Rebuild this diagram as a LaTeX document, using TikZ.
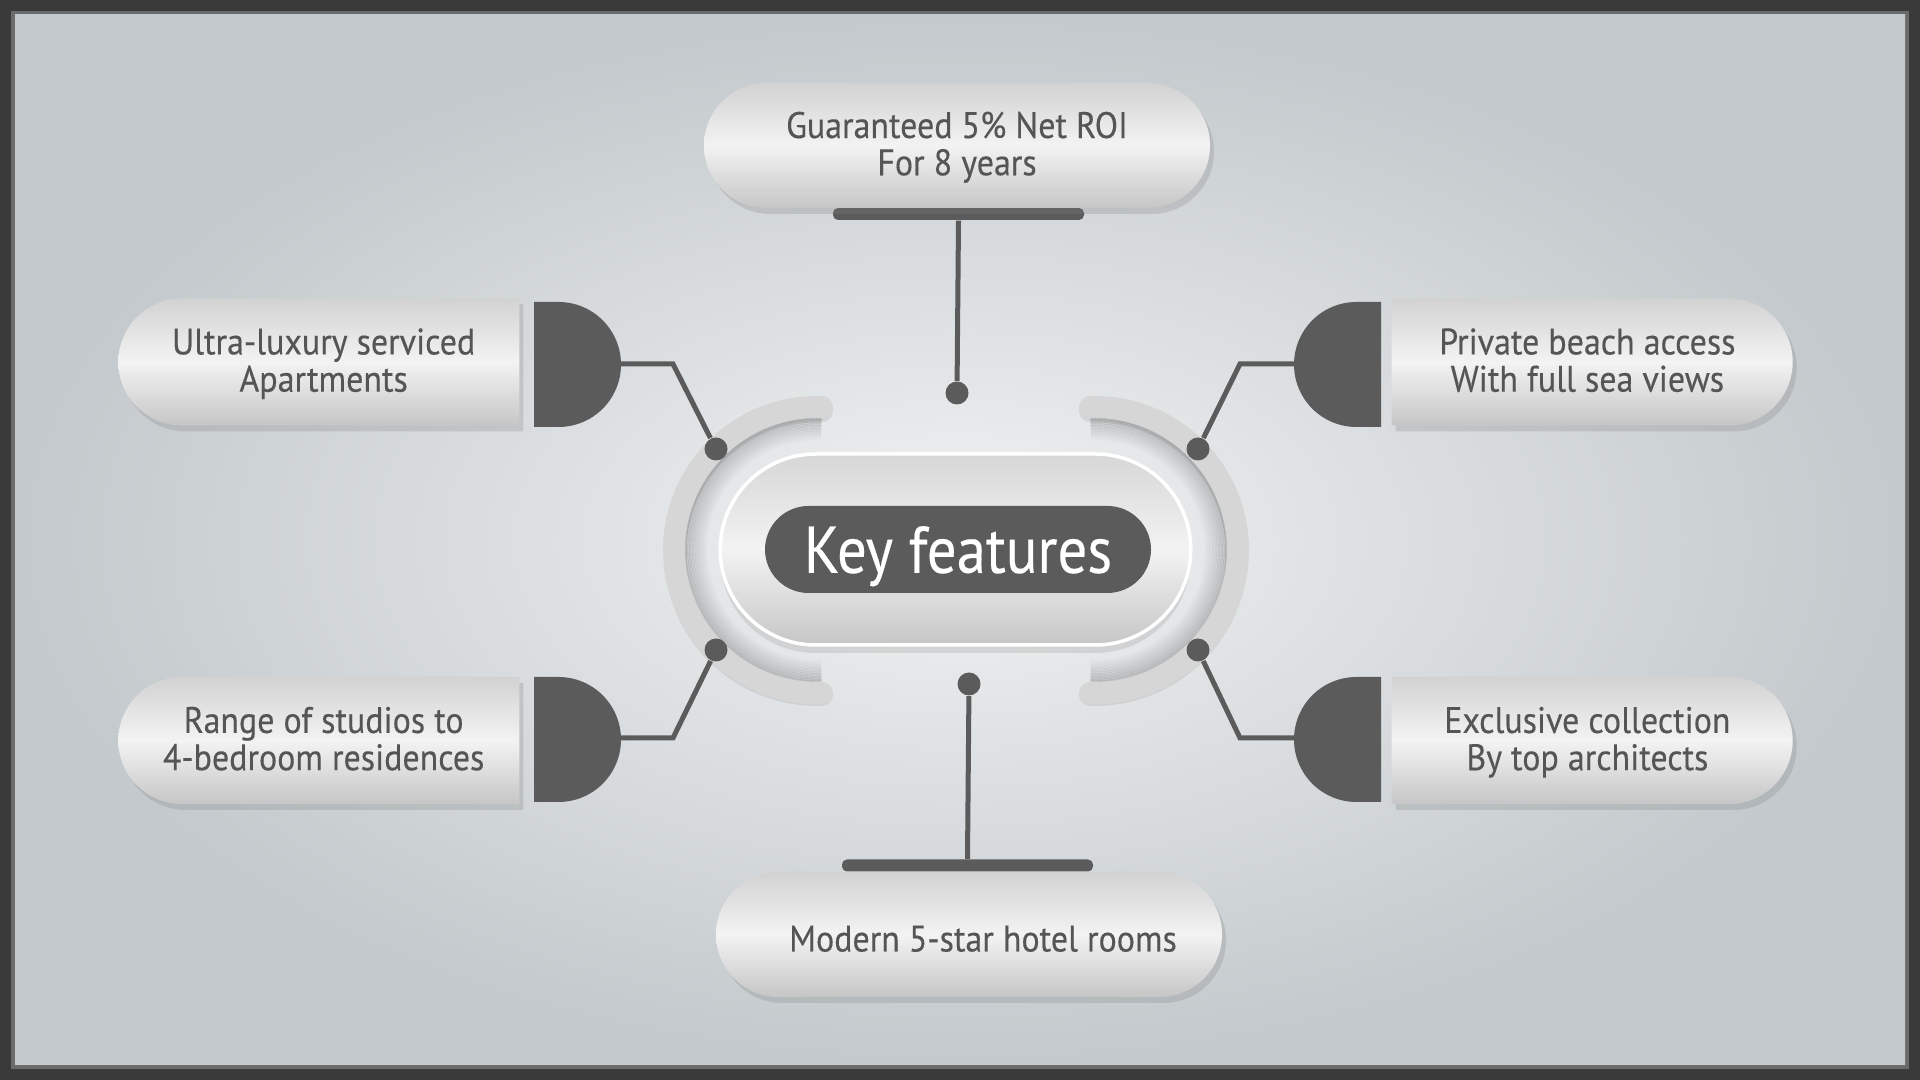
\documentclass[tikz,border=0pt]{standalone}
\usepackage{fontspec}
\setmainfont{PT Sans}[FakeStretch=0.92, FakeBold=0.3]
\newfontfamily\keyfam{PT Sans}[FakeStretch=0.89, FakeBold=0.3]
\usetikzlibrary{shapes.misc,shadows}

\definecolor{darkgrey}{HTML}{5B5B5B}
\definecolor{txtgrey}{HTML}{555555}
\definecolor{bandgrey}{HTML}{D6D6D6}
\definecolor{framegrey}{HTML}{3A3A3A}
\definecolor{bgouter}{HTML}{C3C9CC}
\definecolor{bginner}{HTML}{F1F2F3}
\definecolor{pilltop}{HTML}{D2D2D2}
\definecolor{pillmid}{HTML}{F3F3F3}
\definecolor{pillbot}{HTML}{C6C6C6}

\newcommand{\featfont}{\fontsize{10.5}{10.6}\selectfont}
\newcommand{\keyfont}{\keyfam\fontsize{18.8}{20}\selectfont}

\begin{document}
\begin{tikzpicture}[x=1mm,y=1mm,
  feature/.style={rounded rectangle, minimum width=50.6mm, minimum height=12.5mm, inner sep=0pt,
    top color=pilltop, bottom color=pillbot, middle color=pillmid, text=txtgrey,
    font=\featfont, align=center, text depth=0.4mm,
    drop shadow={opacity=0.25, shadow xshift=0.4mm, shadow yshift=-0.6mm}},
  sidebox/.style={feature, minimum width=40.1mm, minimum height=12.7mm},
  bar/.style={rectangle, fill=darkgrey, minimum width=25.1mm, minimum height=1.2mm, inner sep=0pt, rounded corners=0.5mm},
  wire/.style={draw=darkgrey, line width=0.5mm},
  joint/.style={circle, fill=darkgrey, minimum size=2.3mm, inner sep=0pt},
  band/.style={draw=bandgrey, line width=2.2mm, line cap=round}]

\useasboundingbox (0,0) rectangle (192,108);
\fill[framegrey] (0,0) rectangle (192,108);
\fill[framegrey!75!white] (1.1,1.1) rectangle (190.9,106.9);
\shade[inner color=bginner, outer color=bgouter] (1.5,1.5) rectangle (190.5,106.5);

\foreach \cx/\a/\b in {81.7/88/272, 109.5/-92/92} {
\foreach \i in {0,...,15}
  \draw[line width=0.18mm, black, opacity=0.01*\i] ([shift={(\a:10.9+0.15*\i)}]\cx,53) arc[start angle=\a, end angle=\b, radius=10.9+0.15*\i];
\draw[line width=2.2mm, black, opacity=0.08, line cap=round] ([shift={(\a:14.2)}]\cx,52.7) arc[start angle=\a, end angle=\b, radius=14.2];
\draw[band] ([shift={(\a:14.3)}]\cx,53) arc[start angle=\a, end angle=\b, radius=14.3];
}

\node[rounded rectangle, minimum width=49.4mm, minimum height=19.1mm, draw=white, line width=0.35mm,
  top color=pilltop!90!white, bottom color=pillbot, middle color=pillmid,
  drop shadow={opacity=0.2, shadow xshift=0mm, shadow yshift=-0.8mm}] (hub) at (95.55,53.05) {};
\node[rounded rectangle, minimum width=38.6mm, minimum height=8.7mm, fill=darkgrey, text=white,
  font=\keyfont, inner sep=0pt, text depth=0pt] (key) at (95.8,53.05) {Key features};

\fill[darkgrey] (53.4,77.8) -- (55.85,77.8) arc[start angle=90, end angle=-90, radius=6.25] -- (53.4,65.3) -- cycle;
\fill[darkgrey] (53.4,40.3) -- (55.85,40.3) arc[start angle=90, end angle=-90, radius=6.25] -- (53.4,27.8) -- cycle;
\fill[darkgrey] (138.1,77.8) -- (135.65,77.8) arc[start angle=90, end angle=270, radius=6.25] -- (138.1,65.3) -- cycle;
\fill[darkgrey] (138.1,40.3) -- (135.65,40.3) arc[start angle=90, end angle=270, radius=6.25] -- (138.1,27.8) -- cycle;
\coordinate (dTL) at (62.1,71.6);
\coordinate (dBL) at (62.1,34.2);
\coordinate (dTR) at (129.4,71.6);
\coordinate (dBR) at (129.4,34.2);

\coordinate (elbTL) at (67.3,71.6);
\coordinate (elbBL) at (67.3,34.2);
\coordinate (elbTR) at (124.0,71.6);
\coordinate (elbBR) at (124.0,34.2);

\node[joint] (jTL) at (71.6,63.1) {};
\node[joint] (jBL) at (71.6,43.0) {};
\node[joint] (jTR) at (119.8,63.1) {};
\node[joint] (jBR) at (119.8,43.0) {};
\node[joint] (jT) at (95.7,68.7) {};
\node[joint] (jB) at (96.9,39.6) {};

\node[bar] (topbar) at (95.85,86.6) {};
\node[bar] (botbar) at (96.75,21.45) {};

\draw[wire] (dTL) -- (elbTL) -- (jTL);
\draw[wire] (dBL) -- (elbBL) -- (jBL);
\draw[wire] (dTR) -- (elbTR) -- (jTR);
\draw[wire] (dBR) -- (elbBR) -- (jBR);
\draw[wire] (topbar.south) -- (jT);
\draw[wire] (jB) -- (botbar.north);

\node[feature] (roi) at (95.7,93.45) {Guaranteed 5\% Net ROI\\For 8 years};
\node[feature, text height=3.4mm, text depth=0pt] (hotel) at (96.9,14.55) {\hspace*{2.8mm}Modern 5-star hotel rooms};
\node[sidebox, rounded rectangle right arc=none, anchor=east] (apart) at (52.0,71.8) {Ultra-luxury serviced\\Apartments};
\node[sidebox, rounded rectangle right arc=none, anchor=east] (studio) at (52.0,33.95) {Range of studios to\\4-bedroom residences};
\node[sidebox, rounded rectangle left arc=none, anchor=west] (beach) at (139.1,71.8) {Private beach access\\With full sea views};
\node[sidebox, rounded rectangle left arc=none, anchor=west] (arch) at (139.1,33.95) {Exclusive collection\\By top architects};
\end{tikzpicture}
\end{document}
